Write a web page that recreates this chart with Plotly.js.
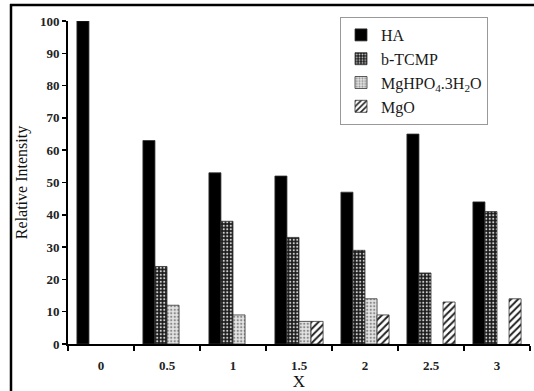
<!DOCTYPE html>
<html>
<head>
<meta charset="utf-8">
<script src="https://cdn.plot.ly/plotly-3.0.1.min.js"></script>
<style>
  html, body { margin: 0; padding: 0; background: #fff; }
  #chart { width: 534px; height: 391px; }
</style>
</head>
<body>
<div id="chart"></div>
<script>
// ---- data ----
const categories = ["0", "0.5", "1", "1.5", "2", "2.5", "3"];
const haValues = [100, 63, 53, 52, 47, 65, 44];
const btcmpValues = [null, 24, 38, 33, 29, 22, 41];
const mghpoValues = [null, 12, 9, 7, 14, null, null];
const mgoValues = [null, null, null, 7, 9, 13, 14];
const seriesNames = ["HA", "b-TCMP", "MgHPO<sub>4</sub>.3H<sub>2</sub>O", "MgO"];
const yTickValues = [0, 10, 20, 30, 40, 50, 60, 70, 80, 90, 100];

// ---- layout constants ----
const W = 534, H = 391;
const M = { l: 68, r: 4, t: 21, b: 47 };
const plotW = W - M.l - M.r, plotH = H - M.t - M.b;
const px2x = p => (p - M.l) / plotW;
const px2y = p => (H - M.b - p) / plotH;

const serif = "'Liberation Serif', 'Times New Roman', Times, serif";
const outline = { color: "#333", width: 0.8 };

const traces = [
  {
    type: "bar", name: seriesNames[0], x: categories, y: haValues,
    marker: { color: "#000", line: outline }
  },
  {
    type: "bar", name: seriesNames[1], x: categories, y: btcmpValues,
    marker: { color: "#222", line: outline,
      pattern: { shape: ".", bgcolor: "#1a1a1a", fgcolor: "#cfcfcf", size: 3.5, solidity: 0.3, fillmode: "replace" } }
  },
  {
    type: "bar", name: seriesNames[2], x: categories, y: mghpoValues,
    marker: { color: "#ddd", line: outline,
      pattern: { shape: ".", bgcolor: "#e4e4e4", fgcolor: "#8a8a8a", size: 3.5, solidity: 0.35, fillmode: "replace" } }
  },
  {
    type: "bar", name: seriesNames[3], x: categories, y: mgoValues,
    marker: { color: "#fff", line: outline,
      pattern: { shape: "/", bgcolor: "#fff", fgcolor: "#222", size: 5, solidity: 0.4, fillmode: "replace" } }
  }
];

const layout = {
  width: W, height: H,
  margin: M,
  paper_bgcolor: "#fff",
  plot_bgcolor: "#fff",
  barmode: "group",
  bargap: 0.27,
  bargroupgap: 0,
  showlegend: true,
  font: { family: serif, color: "#111" },
  xaxis: {
    type: "category",
    tickson: "boundaries",
    ticks: "outside", ticklen: 5, tickwidth: 1.5, tickcolor: "#000",
    showline: true, linecolor: "#000", linewidth: 2,
    showgrid: false, zeroline: false,
    tickfont: { family: serif, size: 13, weight: "bold", color: "#222" },
    ticklabelstandoff: 8,
    title: { text: "X", font: { family: serif, size: 17, color: "#111" }, standoff: 9 },
    fixedrange: true
  },
  yaxis: {
    range: [0, 100],
    tickvals: yTickValues,
    ticks: "outside", ticklen: 4, tickwidth: 1.5, tickcolor: "#000",
    showline: true, linecolor: "#000", linewidth: 2,
    showgrid: false, zeroline: false,
    tickfont: { family: serif, size: 13, weight: "bold", color: "#222" },
    title: { text: "Relative Intensity", font: { family: serif, size: 16, color: "#111" }, standoff: 8 },
    fixedrange: true
  },
  legend: {
    x: px2x(340), xanchor: "left",
    y: px2y(17), yanchor: "top",
    bgcolor: "#fff",
    bordercolor: "#999", borderwidth: 1,
    font: { family: serif, size: 16, color: "#1a1a1a" },
    tracegroupgap: 0,
    itemwidth: 30
  },
  shapes: [
    { type: "line", xref: "paper", yref: "paper",
      x0: px2x(11), x1: px2x(11), y0: px2y(4), y1: px2y(H + 5),
      line: { color: "#000", width: 2.5 } },
    { type: "line", xref: "paper", yref: "paper",
      x0: px2x(10), x1: px2x(W + 5), y0: px2y(5), y1: px2y(5),
      line: { color: "#000", width: 2.5 } }
  ]
};

Plotly.newPlot("chart", traces, layout, { displayModeBar: false, staticPlot: true });
</script>
</body>
</html>
